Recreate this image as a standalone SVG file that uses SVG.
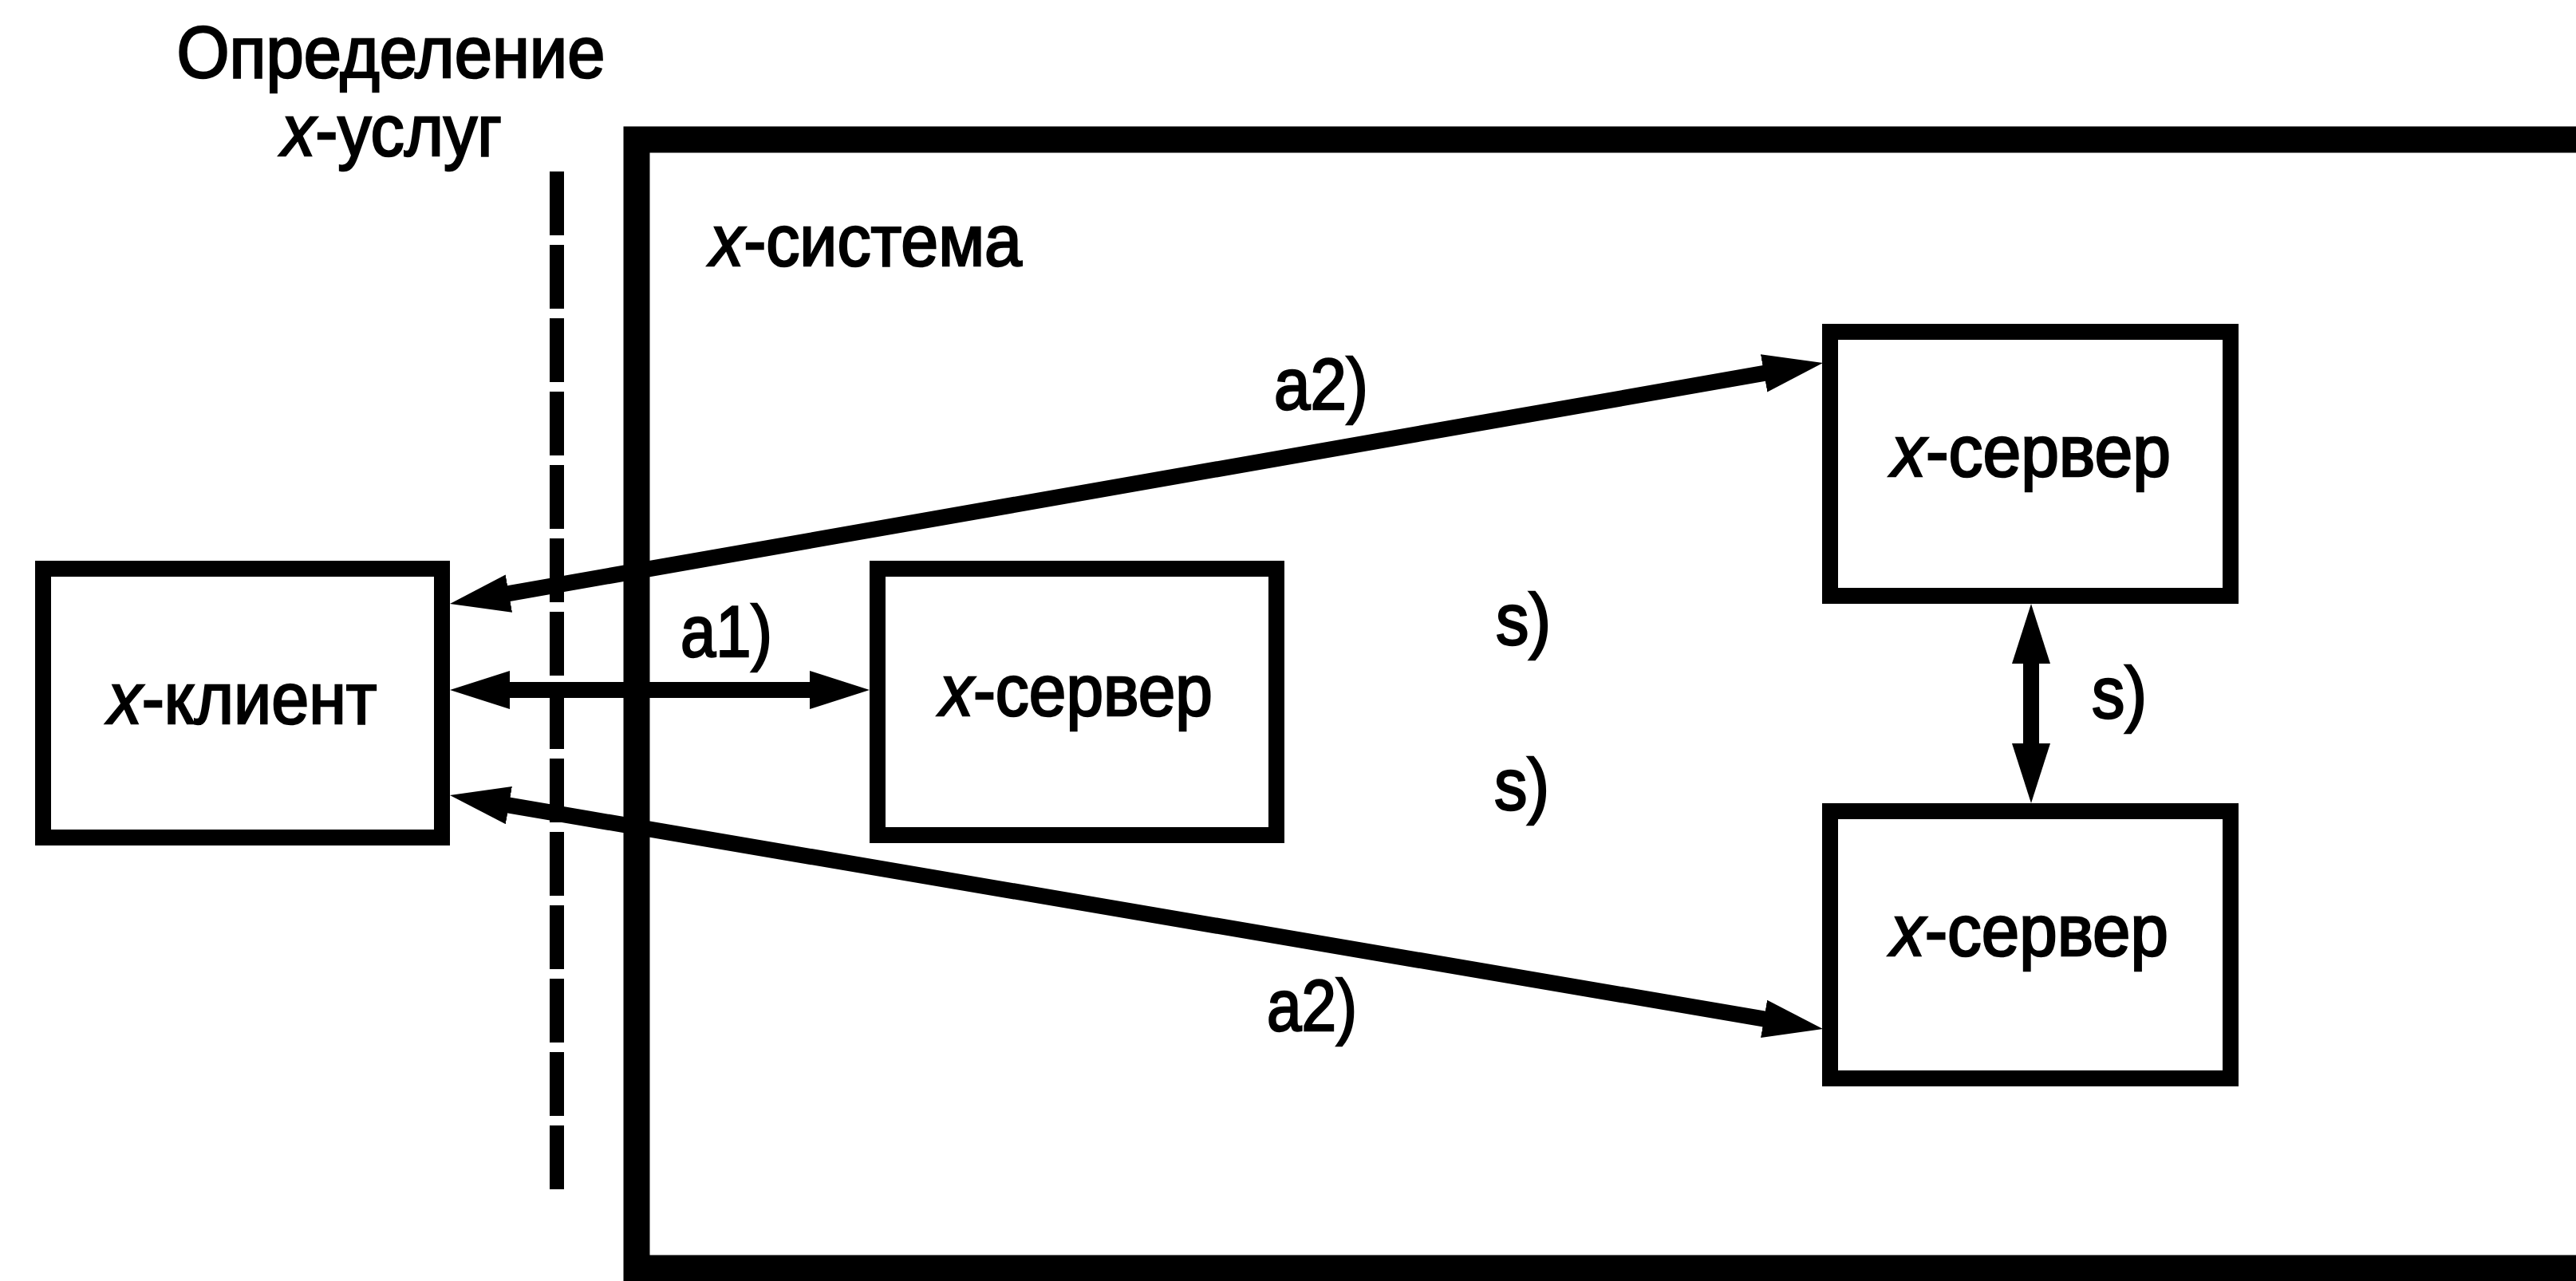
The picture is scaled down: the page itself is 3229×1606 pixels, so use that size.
<svg xmlns="http://www.w3.org/2000/svg" width="3229" height="1606" viewBox="0 0 3229 1606">
<style>
text{font-family:"Liberation Sans",Arial,sans-serif;font-size:90px;fill:#000;stroke:#000;stroke-width:2.5}
.box{fill:#fff;stroke:#000;stroke-width:20}
.c{text-anchor:middle}
.arr{stroke:#000;stroke-width:20;fill:none;marker-start:url(#ah);marker-end:url(#ah)}
.i{font-style:italic}
</style>
<defs>
<marker id="ah" viewBox="0 0 75 48" refX="35" refY="24" markerWidth="75" markerHeight="48" markerUnits="userSpaceOnUse" orient="auto-start-reverse">
<path d="M0,0 L75,24 L0,48 z" fill="#000"/>
</marker>
</defs>
<rect width="3229" height="1606" fill="#fff"/>
<g id="service-boundary">
<text class="c" x="490" y="97" textLength="537" lengthAdjust="spacingAndGlyphs">Определение</text>
<text class="c" x="491" y="195" textLength="276" lengthAdjust="spacingAndGlyphs"><tspan class="i">x</tspan>-услуг</text>
<line x1="698" y1="215" x2="698" y2="1500" stroke="#000" stroke-width="18" stroke-dasharray="80 12"/>
</g>
<g id="x-system">
<path d="M3260,175 H798 V1590 H3260" fill="none" stroke="#000" stroke-width="33"/>
<text x="890" y="333" textLength="391" lengthAdjust="spacingAndGlyphs"><tspan class="i">x</tspan>-система</text>
</g>
<g id="connectors">
<line class="arr" x1="603.4" y1="750.1" x2="2245.6" y2="461.9"/>
<line class="arr" x1="604" y1="865" x2="1050" y2="865"/>
<line class="arr" x1="603.4" y1="1003.7" x2="2245.6" y2="1283.3"/>
<line class="arr" x1="2546" y1="797" x2="2546" y2="967"/>
<text x="1597" y="513" textLength="118" lengthAdjust="spacingAndGlyphs">a2)</text>
<text x="853" y="823" textLength="115" lengthAdjust="spacingAndGlyphs">a1)</text>
<text x="1875" y="808" textLength="69" lengthAdjust="spacingAndGlyphs">s)</text>
<text x="1873" y="1015" textLength="69" lengthAdjust="spacingAndGlyphs">s)</text>
<text x="2622" y="900" textLength="69" lengthAdjust="spacingAndGlyphs">s)</text>
<text x="1588" y="1292" textLength="113" lengthAdjust="spacingAndGlyphs">a2)</text>
</g>
<g id="x-client">
<rect class="box" x="54" y="713" width="500" height="337"/>
<text class="c" x="304" y="907" textLength="337" lengthAdjust="spacingAndGlyphs"><tspan class="i">x</tspan>-клиент</text>
</g>
<g id="x-server-1">
<rect class="box" x="1100" y="713" width="500" height="334"/>
<text class="c" x="1349" y="897" textLength="342" lengthAdjust="spacingAndGlyphs"><tspan class="i">x</tspan>-сервер</text>
</g>
<g id="x-server-2">
<rect class="box" x="2294" y="416" width="502" height="331"/>
<text class="c" x="2546" y="597" textLength="350" lengthAdjust="spacingAndGlyphs"><tspan class="i">x</tspan>-сервер</text>
</g>
<g id="x-server-3">
<rect class="box" x="2294" y="1017" width="502" height="335"/>
<text class="c" x="2544" y="1198" textLength="348" lengthAdjust="spacingAndGlyphs"><tspan class="i">x</tspan>-сервер</text>
</g>
</svg>
